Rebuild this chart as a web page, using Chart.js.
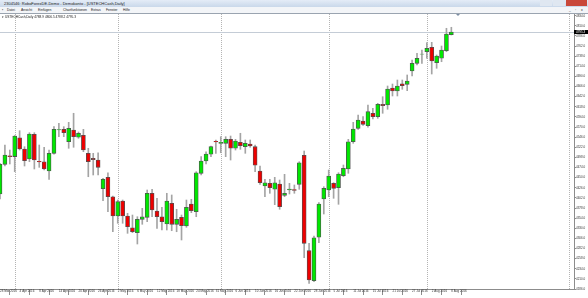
<!DOCTYPE html>
<html><head><meta charset="utf-8">
<script src="https://cdn.jsdelivr.net/npm/chart.js@4.4.1/dist/chart.umd.min.js"></script>
<style>
html,body{margin:0;padding:0;width:588px;height:298px;overflow:hidden;background:#fff;font-family:"Liberation Sans",Arial,sans-serif;}
#title{position:absolute;left:0;top:0;width:588px;height:7px;background:linear-gradient(#e4ecf7,#c9d8ea);}
#title span{position:absolute;left:4px;top:1px;font-size:4px;line-height:5px;color:#1a1a1a;white-space:nowrap;}
.wb{position:absolute;top:0;height:6px;border:0;}
#menu{position:absolute;left:0;top:7px;width:588px;height:6px;background:#f3f5f8;border-bottom:1px solid #9aa4b0;}
.mi{position:absolute;top:1px;font-size:3.4px;line-height:4px;color:#1a1a1a;white-space:nowrap;}
#info{position:absolute;left:2px;top:14.6px;font-size:3.2px;line-height:4px;color:#1a1a1a;white-space:nowrap;z-index:2;}
#wrap{position:absolute;left:0;top:14px;width:588px;height:284px;}
#shift{position:absolute;left:456px;top:14px;width:0;height:0;border-left:2px solid transparent;border-right:2px solid transparent;border-top:2px solid #7d8ea3;z-index:2;}
</style>
</head><body>
<div id="title"><span>2304546: RoboForexDE-Demo - Demokonto - [USTECHCash,Daily]</span>
<div class="wb" style="left:540px;width:12px;background:#dfe7f1;"></div>
<div class="wb" style="left:553px;width:12px;background:#dfe7f1;"></div>
<div class="wb" style="left:566px;width:21px;background:#c9483a;"></div>
</div>
<div id="menu">
<span class="mi" style="left:2px;">▪</span>
<span class="mi" style="left:7px;">Datei</span>
<span class="mi" style="left:21px;">Ansicht</span>
<span class="mi" style="left:38px;">Einfügen</span>
<span class="mi" style="left:63px;">Chartfunktionen</span>
<span class="mi" style="left:91px;">Extras</span>
<span class="mi" style="left:106px;">Fenster</span>
<span class="mi" style="left:123px;">Hilfe</span>
<span class="mi" style="left:569px;">_</span>
<span class="mi" style="left:575px;">▫</span>
<span class="mi" style="left:581px;">x</span>
</div>
<div id="info">▾ USTECHCash,Daily 4788.9 4806.5 4788.2 4795.3</div>
<div id="shift"></div>
<div id="wrap"><canvas id="c"></canvas></div>
<script>
// ---- categories (trading days, then future calendar days as MT4 extrapolates) ----
const daysMar = [29,30,31];
const daysApr = [1,4,5,6,7,8,11,12,13,14,15,18,19,20,21,22,25,26,27,28,29];
const daysMay = [2,3,4,5,6,9,10,11,12,13,16,17,18,19,20,23,24,25,26,27,31];
const daysJun = [1,2,3,6,7,8,9,10,13,14,15,16,17,20,21,22,23,24,27,28,29,30];
const daysJul = [1,5,6,7,8,11,12,13,14,15,18,19,20,21,22,25,26,27,28,29];
const daysAug = [1,2,3,4,5,8];
const futureAug = [9,10,11,12,13,14,15,16,17,18,19,20,21,22,23,24,25,26,27,28,29,30,31];
const futureSep = [1,2];

// ---- OHLC series (USTECHCash, daily) ----
const open  = [4411.2,4481.6,4502.0,4500.0,4544.7,4517.9,4494.2,4552.8,4488.5,4487.8,
               4465.8,4507.7,4563.0,4564.6,4535.2,4563.0,4545.7,4550.4,4507.7,4495.9,
               4491.8,4423.8,4450.8,4404.8,4359.1,4394.6,4359.1,4331.3,4319.5,4351.2,
               4356.0,4412.9,4370.9,4357.4,4340.1,4389.2,4339.4,4356.0,4335.4,4387.5,
               4369.3,4460.3,4489.5,4505.4,4536.0,4531.4,4531.4,4540.9,4519.6,4533.8,
               4523.4,4529.8,4523.4,4465.8,4430.2,4436.6,4422.4,4434.9,4408.1,4421.0,
               4422.0,4434.2,4503.0,4276.8,4205.7,4308.6,4399.4,4420.7,4436.6,4426.2,
               4454.6,4470.5,4535.2,4567.0,4584.3,4573.2,4602.6,4594.5,4623.9,4622.2,
               4662.6,4655.4,4672.7,4671.3,4702.9,4721.1,4743.0,4748.6,4759.1,4722.5,
               4733.0,4751.0,4788.9];
const high  = [4484.0,4527.4,4515.5,4550.0,4561.3,4523.4,4556.6,4556.6,4527.4,4522.0,
               4515.5,4570.8,4578.9,4570.8,4581.2,4602.6,4558.2,4564.6,4519.6,4507.7,
               4509.1,4448.5,4461.7,4406.5,4397.0,4397.0,4365.5,4361.4,4357.4,4377.3,
               4420.7,4422.4,4401.0,4379.7,4412.9,4408.9,4375.0,4361.4,4397.0,4398.7,
               4464.1,4499.7,4511.5,4525.0,4539.3,4547.1,4547.1,4548.7,4540.9,4555.2,
               4539.3,4539.3,4527.4,4477.6,4446.1,4446.1,4450.8,4444.4,4457.9,4436.6,
               4432.6,4487.8,4513.2,4294.3,4311.6,4390.6,4428.5,4468.1,4438.0,4461.7,
               4480.0,4540.9,4581.2,4598.5,4594.5,4622.2,4614.4,4626.3,4641.9,4667.3,
               4672.0,4681.5,4681.5,4693.4,4728.9,4744.8,4752.7,4770.0,4770.9,4740.8,
               4762.1,4804.1,4806.5];
const low   = [4399.4,4477.6,4482.4,4464.1,4515.5,4477.6,4487.8,4470.5,4474.5,4468.1,
               4446.1,4505.4,4547.1,4547.1,4519.6,4522.0,4543.3,4511.5,4452.2,4456.3,
               4456.3,4395.3,4369.3,4321.8,4341.8,4341.8,4318.0,4319.5,4292.7,4339.4,
               4345.6,4357.4,4329.9,4325.9,4325.9,4324.2,4321.8,4302.2,4332.3,4366.9,
               4357.4,4456.3,4482.4,4499.7,4507.7,4509.1,4499.7,4491.8,4515.5,4517.2,
               4507.7,4522.0,4464.1,4434.2,4404.8,4412.9,4386.0,4375.0,4404.8,4411.2,
               4412.9,4422.4,4260.2,4199.5,4203.3,4295.8,4363.8,4404.8,4401.0,4386.8,
               4452.2,4460.3,4531.4,4564.6,4574.1,4569.4,4589.1,4590.7,4602.6,4612.1,
               4643.6,4643.6,4659.5,4656.2,4691.0,4717.1,4721.1,4733.0,4695.7,4709.3,
               4724.9,4748.6,4788.2];
const close = [4481.6,4503.7,4499.7,4548.7,4517.9,4490.2,4553.5,4491.8,4487.5,4470.5,
               4507.7,4564.6,4564.0,4556.6,4567.0,4547.1,4555.2,4515.5,4487.8,4492.5,
               4474.5,4446.1,4404.8,4359.1,4393.0,4359.1,4333.7,4321.8,4351.2,4357.4,
               4412.9,4373.3,4357.4,4345.6,4394.6,4339.4,4351.2,4336.1,4379.7,4371.6,
               4461.7,4489.5,4506.1,4523.4,4535.0,4533.8,4540.9,4519.6,4536.9,4525.7,
               4531.4,4525.0,4479.3,4438.0,4438.0,4426.2,4438.0,4381.1,4412.9,4423.0,
               4420.0,4485.4,4294.3,4207.3,4307.6,4387.5,4424.7,4453.9,4424.7,4458.6,
               4472.2,4535.2,4565.3,4586.7,4576.5,4606.4,4594.5,4623.9,4620.6,4660.2,
               4655.4,4667.3,4668.0,4679.1,4721.1,4733.0,4743.2,4756.7,4726.6,4738.4,
               4752.7,4790.6,4795.3];

// ---- tick labels ----
const xTickIdx = [0,4,8,12,16,20,24,28,32,36,40,44,48,52,56,60,64,68,72,76,80,84,88,92];
const xTickLabels = ["28 Mar 2016","4 Apr 2016","8 Apr 2016","14 Apr 2016","20 Apr 2016","26 Apr 2016",
  "2 May 2016","6 May 2016","12 May 2016","18 May 2016","24 May 2016","31 May 2016",
  "6 Jun 2016","10 Jun 2016","16 Jun 2016","22 Jun 2016","28 Jun 2016",
  "5 Jul 2016","11 Jul 2016","15 Jul 2016","21 Jul 2016","27 Jul 2016","2 Aug 2016","8 Aug 2016"];
const yTicks = [4186,4210,4234,4258,4282,4306,4330,4354,4378,4402,4426,4450,4474,4498,
                4522,4546,4570,4594,4618,4642,4666,4690,4714,4738,4762,4786,4810,4834];

// ---- build categories ----
const monthParts = [["Mar",daysMar],["Apr",daysApr],["May",daysMay],["Jun",daysJun],["Jul",daysJul],["Aug",daysAug],["Aug",futureAug],["Sep",futureSep]];
const categories = [], catMonth = [];
monthParts.forEach(([m,ds]) => ds.forEach(d => { categories.push(d + " " + m + " 2016"); catMonth.push(m); }));

const bodies = open.map((o,i) => [o, close[i]]);
const wicks = low.map((l,i) => [l, high[i]]);
const bodyColors = open.map((o,i) => close[i] >= o ? '#00e800' : '#ee0000');
const lastClose = close[close.length-1];
const FONT = '"Liberation Sans", Arial, sans-serif';

const overlay = {
  id:'overlay',
  beforeDatasetsDraw(chart){
    const {ctx, chartArea:a, scales:{x,y}} = chart;
    ctx.save();
    ctx.strokeStyle = '#b4b4b4'; ctx.lineWidth = 1; ctx.setLineDash([1,1]);
    for (let i = 1; i < catMonth.length; i++) {
      if (catMonth[i] !== catMonth[i-1]) {
        const px = Math.round(x.getPixelForValue(i)) + 0.5;
        ctx.beginPath(); ctx.moveTo(px, a.top); ctx.lineTo(px, a.bottom); ctx.stroke();
      }
    }
    ctx.setLineDash([]);
    const py = Math.round(y.getPixelForValue(lastClose)) + 0.5;
    ctx.strokeStyle = '#c4ccd6';
    ctx.beginPath(); ctx.moveTo(a.left, py); ctx.lineTo(a.right, py); ctx.stroke();
    ctx.restore();
  },
  afterDraw(chart){
    const {ctx, scales:{y}} = chart;
    const py = y.getPixelForValue(lastClose);
    ctx.save();
    ctx.fillStyle = '#000';
    ctx.fillRect(y.left, py - 2, 14, 4);
    ctx.fillStyle = '#fff';
    ctx.font = '3px ' + FONT;
    ctx.textBaseline = 'middle';
    ctx.fillText(lastClose.toFixed(1), y.left + 2, py);
    ctx.restore();
  }
};

new Chart(document.getElementById('c'), {
  type: 'bar',
  data: {
    labels: categories,
    datasets: [
      {label:'wick', data: wicks, backgroundColor:'#a4a4a4', barThickness:1, grouped:false, order:2},
      {label:'body', data: bodies, backgroundColor: bodyColors, borderColor:'#505050', borderWidth:0.8,
       borderSkipped:false, barThickness:4, grouped:false, order:1}
    ]
  },
  options: {
    responsive:true, maintainAspectRatio:false, animation:false,
    layout:{padding:0},
    plugins:{legend:{display:false}, tooltip:{enabled:false}},
    scales:{
      x:{
        type:'category', offset:false,
        grid:{display:true, drawOnChartArea:false, drawTicks:true, tickLength:6, color:'#8c8c8c'},
        border:{display:true, color:'#8c8c8c'},
        ticks:{autoSkip:false, maxRotation:0, minRotation:0, align:'start', padding:-5,
               font:{size:3, family:FONT, lineHeight:1}, color:'#333',
               callback:(v,i) => xTickLabels[i]},
        afterBuildTicks: s => { s.ticks = xTickIdx.map(v => ({value:v})); },
        afterFit: s => { s.height = 9; s.paddingLeft = 0; s.paddingRight = 0; }
      },
      y:{
        position:'right', min:4186, max:4838,
        grid:{drawOnChartArea:false, drawTicks:true, tickLength:2, color:'#8c8c8c'},
        border:{display:true, color:'#8c8c8c'},
        ticks:{padding:0, font:{size:3, family:FONT, lineHeight:1}, color:'#333',
               callback: v => Number(v).toFixed(1)},
        afterBuildTicks: s => { s.ticks = yTicks.map(v => ({value:v})); },
        afterFit: s => { s.width = 14; s.paddingTop = 0; s.paddingBottom = 0; }
      }
    }
  },
  plugins:[overlay]
});
</script>
</body></html>
